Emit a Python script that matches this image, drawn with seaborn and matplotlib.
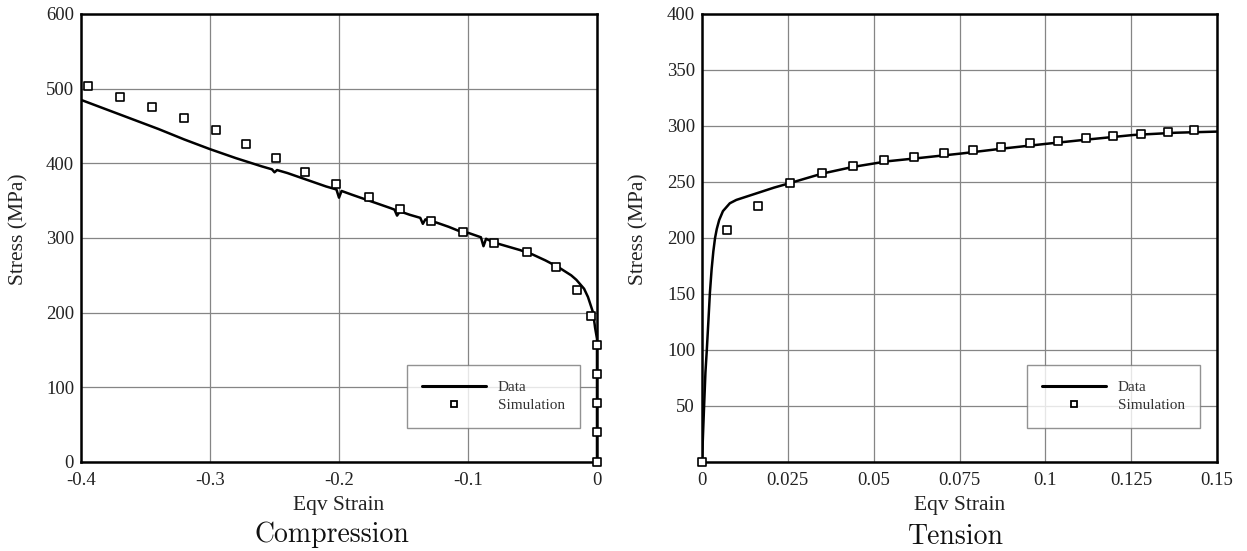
import matplotlib
matplotlib.use("Agg")
import matplotlib.pyplot as plt
from matplotlib.ticker import MultipleLocator, FuncFormatter
from matplotlib.lines import Line2D
import seaborn as sns
import pandas as pd

# ---- Compression test: measured curve ----
comp_strain = [-0.400, -0.380, -0.360, -0.340, -0.320, -0.300, -0.280, -0.260,
               -0.252, -0.250, -0.248, -0.240, -0.225, -0.210, -0.202, -0.200,
               -0.198, -0.190, -0.175, -0.160, -0.157, -0.155, -0.153, -0.150,
               -0.145, -0.137, -0.135, -0.133, -0.125, -0.115, -0.105, -0.102,
               -0.100, -0.095, -0.090, -0.088, -0.086, -0.080, -0.070, -0.060,
               -0.050, -0.040, -0.030, -0.020, -0.016, -0.010, -0.007, -0.003,
               -0.0015, -0.0005, 0.0, 0.0]
comp_stress = [485, 472, 459, 446, 432, 419, 407, 396,
               392, 388, 391, 387, 378, 369, 365, 354,
               363, 358, 349, 340, 338, 330, 335, 334,
               331, 327, 319, 325, 321, 315, 308, 304,
               307, 304, 301, 289, 299, 294, 289, 284,
               278, 270, 261, 250, 244, 232, 221, 200,
               180, 170, 165, 0]

# ---- Compression test: simulation ----
comp_sim_strain = [-0.3946, -0.370, -0.345, -0.320, -0.295, -0.272, -0.249, -0.226,
                   -0.202, -0.177, -0.153, -0.129, -0.104, -0.080, -0.054, -0.032,
                   -0.0155, -0.0045, 0.0, 0.0, 0.0, 0.0, 0.0]
comp_sim_stress = [503.5, 489, 475, 461, 445, 426, 407, 389,
                   372, 355, 339, 323, 307.5, 293, 281.5, 261.5,
                   230, 195, 157, 118, 79, 40, 0]

# ---- Tension test: measured curve ----
tens_strain = [0.0, 0.0003, 0.0006, 0.0010, 0.0014, 0.0019, 0.0023, 0.0028,
               0.0033, 0.0038, 0.0043, 0.0050, 0.0061, 0.0081, 0.0100, 0.0130,
               0.0170, 0.0210, 0.0256, 0.0300, 0.0350, 0.0440, 0.0540, 0.0635,
               0.0757, 0.0880, 0.1000, 0.1125, 0.1257, 0.1380, 0.1500]
tens_stress = [0, 25, 49, 80, 100, 128, 151, 172,
               188, 200, 208, 216, 224, 231, 234, 237,
               241, 245, 249, 253, 257.5, 263.5, 268.5, 271.5,
               275.5, 280, 284, 288, 292, 294, 295]

# ---- Tension test: simulation ----
tens_sim_strain = [0.0, 0.0072, 0.0164, 0.0256, 0.035, 0.044, 0.053, 0.0618,
                   0.0705, 0.0789, 0.0871, 0.0955, 0.1038, 0.1118, 0.1198, 0.1278,
                   0.1356, 0.1433]
tens_sim_stress = [0, 207, 228.6, 249.4, 257.7, 264.6, 270, 272.6,
                   275.6, 278.6, 281.5, 284.5, 287, 289.6, 291.4, 292.9,
                   295, 296.4]

sns.set_theme(style="white")
plt.rcParams["font.family"] = ["Liberation Serif", "DejaVu Serif"]
plt.rcParams["axes.unicode_minus"] = False

fig = plt.figure(figsize=(12.47, 5.51), dpi=100)
ax_c = fig.add_axes([81 / 1247, 1 - 462 / 551, 516 / 1247, 448 / 551])
ax_t = fig.add_axes([702 / 1247, 1 - 462 / 551, 515 / 1247, 448 / 551])

fmt = FuncFormatter(lambda v, p: f"{v:g}")


def draw_panel(ax, xs, ys, sx, sy):
    line_df = pd.DataFrame({"strain": xs, "stress": ys})
    sim_df = pd.DataFrame({"strain": sx, "stress": sy})
    sns.lineplot(data=line_df, x="strain", y="stress", sort=False, estimator=None,
                 color="black", linewidth=1.8, ax=ax, zorder=3)
    sns.scatterplot(data=sim_df, x="strain", y="stress", marker="s", s=26,
                    facecolor="white", edgecolor="black", linewidth=1.2,
                    ax=ax, zorder=4, clip_on=False)
    ax.grid(True, which="major", color="#858585", linewidth=0.9)
    ax.set_axisbelow(True)
    for sp in ax.spines.values():
        sp.set_visible(True)
        sp.set_color("black")
        sp.set_linewidth(1.8)
    ax.tick_params(which="major", direction="in", length=7, width=1.8,
                   labelsize=13.5, colors="black", labelcolor="#222222",
                   top=False, right=False)
    ax.tick_params(axis="x", which="major", pad=7)
    ax.tick_params(axis="y", which="major", pad=5)
    ax.tick_params(which="minor", direction="in", length=3.5, width=0.8,
                   colors="#555555", top=False, right=False)
    ax.set_xlabel("Eqv Strain", fontsize=15.5, color="#222222")
    ax.set_ylabel("Stress (MPa)", fontsize=15.5, color="#222222")
    handles = [Line2D([], [], color="black", linewidth=2.2),
               Line2D([], [], color="black", marker="s", markersize=5,
                      markerfacecolor="white", markeredgewidth=1.3, linestyle="none")]
    leg = ax.legend(handles, ["Data", "Simulation"], loc="lower right",
                    bbox_to_anchor=(0.967, 0.077), borderaxespad=0,
                    fontsize=11, frameon=True, fancybox=False,
                    edgecolor="#777777", handlelength=4.2, handletextpad=0.75,
                    labelspacing=0.3, borderpad=1.0)
    leg.get_frame().set_linewidth(1.0)
    for t in leg.get_texts():
        t.set_color("#333333")


draw_panel(ax_c, comp_strain, comp_stress, comp_sim_strain, comp_sim_stress)
ax_c.set_xlim(-0.4, 0)
ax_c.set_ylim(0, 600)
ax_c.xaxis.set_major_locator(MultipleLocator(0.1))
ax_c.xaxis.set_minor_locator(MultipleLocator(0.02))
ax_c.yaxis.set_major_locator(MultipleLocator(100))
ax_c.yaxis.set_minor_locator(MultipleLocator(20))
ax_c.xaxis.set_major_formatter(fmt)
ax_c.yaxis.set_major_formatter(fmt)

draw_panel(ax_t, tens_strain, tens_stress, tens_sim_strain, tens_sim_stress)
ax_t.set_xlim(0, 0.15)
ax_t.set_ylim(0, 400)
ax_t.xaxis.set_major_locator(MultipleLocator(0.025))
ax_t.xaxis.set_minor_locator(MultipleLocator(0.005))
ax_t.yaxis.set_major_locator(MultipleLocator(50))
ax_t.yaxis.set_minor_locator(MultipleLocator(10))
ax_t.xaxis.set_major_formatter(fmt)
ax_t.yaxis.set_major_formatter(FuncFormatter(lambda v, p: "" if v == 0 else f"{v:g}"))

ax_c.xaxis.set_label_coords(0.5, -0.075)
ax_t.xaxis.set_label_coords(0.5, -0.075)
ax_c.yaxis.set_label_coords(-0.101, 0.52)
ax_t.yaxis.set_label_coords(-0.103, 0.52)

fig.text(332 / 1247, 1 - 535 / 551, "Compression", family="cmr10", fontsize=20,
         ha="center", va="center", color="#111111")
fig.text(956 / 1247, 1 - 537 / 551, "Tension", family="cmr10", fontsize=20,
         ha="center", va="center", color="#111111")

fig.savefig("out.png", dpi=100, facecolor="white")
